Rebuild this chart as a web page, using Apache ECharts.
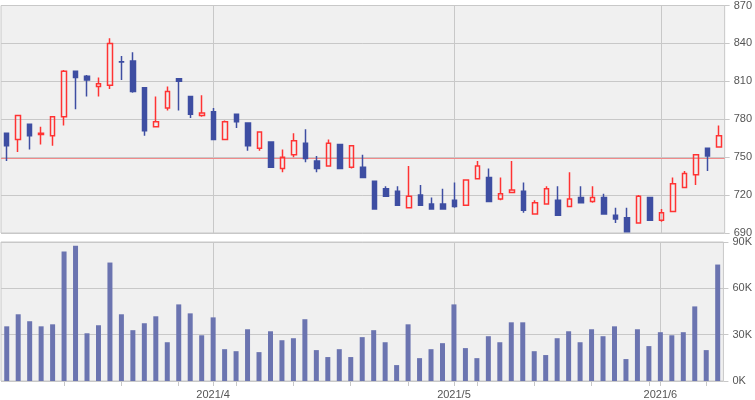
<!DOCTYPE html>
<html>
<head>
<meta charset="utf-8">
<script src="https://cdn.jsdelivr.net/npm/echarts@6/dist/echarts.min.js"></script>
<style>
html,body{margin:0;padding:0;background:#fff;}
#c{width:755px;height:400px;}
</style>
</head>
<body>
<div id="c"></div>
<script>
// Trading days (2021)
const dates = [
  '2021/3/8','2021/3/9','2021/3/10','2021/3/11','2021/3/12','2021/3/15','2021/3/16','2021/3/17','2021/3/18','2021/3/19',
  '2021/3/22','2021/3/23','2021/3/24','2021/3/25','2021/3/26','2021/3/29','2021/3/30','2021/3/31',
  '2021/4/1','2021/4/2','2021/4/5','2021/4/6','2021/4/7','2021/4/8','2021/4/9','2021/4/12','2021/4/13','2021/4/14',
  '2021/4/15','2021/4/16','2021/4/19','2021/4/20','2021/4/21','2021/4/22','2021/4/23','2021/4/26','2021/4/27','2021/4/28','2021/4/30',
  '2021/5/6','2021/5/7','2021/5/10','2021/5/11','2021/5/12','2021/5/13','2021/5/14','2021/5/17','2021/5/18','2021/5/19',
  '2021/5/20','2021/5/21','2021/5/24','2021/5/25','2021/5/26','2021/5/27','2021/5/28','2021/5/31',
  '2021/6/1','2021/6/2','2021/6/3','2021/6/4','2021/6/7','2021/6/8'
];
// [open, close, low, high]
const ohlc = [
  [769,759,747,769],[764,783,754,783],[776,767,756,776],[768,769,760,774],[767,782,759,782],
  [782,818,775,819],[818,813,788,818],[814,811,798,815],[806,808,798,813],[807,840,804,844],
  [825.5,825.3,811,830],[826,802,801,833],[805,771,767,805],[774,778,774,798],[789,802,787,806],
  [812,810,787,812],[798,784,781,798],[783,785,782,799],
  [786,764,764,789],[764,778,764,779],[784,778,773,784],[777,759,755,777],[757,770,755,770],
  [762,742,742,762],[741,750,738,756],[752,763,750,769],[761,749,746,772],[747,741,738,751],
  [743,761,743,764],[760,741,741,760],[742,759,741,759],[742,734,734,752],[731,709,709,731],
  [725,719,719,727],[723,712,712,727],[710,719,710,743],[720,712,712,728],[713,709,709,718],[713,709,709,725],
  [716,711,710,730],[712,732,712,732],[733,743,733,747],[734,715,715,741],[717,721,716,734],
  [722,724,722,747],[723,708,706,730],[705,714,705,716],[713,725,713,727],[716,704,704,727],
  [711,717,711,738],[718,714,714,727],[715,718,714,727],[718,705,705,721],[704,701,698,710],
  [702,691,690.5,710],[698,719,698,720],[718,700,700,718],
  [700,706,699,709],[707,729,707,734],[726,737,726,739],[736,752,728,752],[757,751,739,757],[758,767,758,775]
];
const volumes = [
  35400,43200,38700,35400,36700,83800,87600,30900,36100,76700,
  43200,32900,37400,41900,25100,49600,43800,29600,41200,20600,
  19300,33500,18700,32200,26400,27700,40000,20000,15500,20600,
  15500,28400,32900,25100,10300,36700,14800,20600,24500,49600,
  21300,14800,29000,25100,38000,38000,19300,16800,27700,32200,
  25100,33500,29000,35400,14200,33500,22600,31600,29600,31600,
  48300,20000,75400
];
const refPrice = 749.3;
const priceTicks = {min: 690, max: 870, step: 30};
const volTicks = {min: 0, max: 90000, step: 30000};

function parts(s){ const p = s.split('/').map(Number); return p; }
function isMonthStart(i){
  if (i === 0) return false;
  return parts(dates[i])[1] !== parts(dates[i-1])[1];
}
function isWeekTick(i){
  if (i === 0) return false;
  const p = parts(dates[i]);
  const d = new Date(p[0], p[1]-1, p[2]);
  return d.getDay() === 1 || isMonthStart(i);
}

const gridLine = '#c8c8c8';
const txt = {color:'#555', fontSize:11, fontFamily:'Liberation Sans, Arial, sans-serif'};
const blue = '#3e4ea2';
const red = '#ff3333';

const chart = echarts.init(document.getElementById('c'), null, {renderer:'canvas'});
chart.setOption({
  animation: false,
  grid: [
    {left:1, width:727, top:3, height:230, show:true, backgroundColor:'#f0f0f0', borderColor:gridLine, borderWidth:1},
    {left:1, width:727, top:242, height:140, show:true, backgroundColor:'#f0f0f0', borderColor:gridLine, borderWidth:1}
  ],
  xAxis: [
    {type:'category', gridIndex:0, data:dates, boundaryGap:true,
     axisLine:{show:false}, axisTick:{show:false}, axisLabel:{show:false},
     splitLine:{show:true, alignWithLabel:true, interval:(i)=>isMonthStart(i), lineStyle:{color:gridLine, width:1}}},
    {type:'category', gridIndex:1, data:dates, boundaryGap:true,
     axisLine:{show:false},
     axisTick:{show:true, alignWithLabel:true, length:5, interval:(i)=>isWeekTick(i), lineStyle:{color:gridLine}},
     axisLabel:Object.assign({show:true, margin:8, interval:(i)=>isMonthStart(i),
        formatter:(v)=>{const p=parts(v); return p[0]+'/'+p[1];}}, txt),
     splitLine:{show:true, alignWithLabel:true, interval:(i)=>isMonthStart(i), lineStyle:{color:gridLine, width:1}}}
  ],
  yAxis: [
    {type:'value', gridIndex:0, position:'right', min:priceTicks.min, max:priceTicks.max, interval:priceTicks.step,
     axisLine:{show:false}, axisTick:{show:true, length:5, lineStyle:{color:gridLine}},
     axisLabel:Object.assign({margin:9}, txt),
     splitLine:{show:true, lineStyle:{color:gridLine}}},
    {type:'value', gridIndex:1, position:'right', min:volTicks.min, max:volTicks.max, interval:volTicks.step,
     axisLine:{show:false}, axisTick:{show:true, length:5, lineStyle:{color:gridLine}},
     axisLabel:Object.assign({margin:9, formatter:(v)=>(v/1000)+'K'}, txt),
     splitLine:{show:true, lineStyle:{color:gridLine}}}
  ],
  series: [
    {type:'candlestick', xAxisIndex:0, yAxisIndex:0, data:ohlc, barWidth:5,
     itemStyle:{color:'rgba(0,0,0,0)', color0:blue, borderColor:red, borderColor0:blue, borderColorDoji:blue, borderWidth:1.5},
     markLine:{silent:true, symbol:['none','none'], label:{show:false}, z:1,
       lineStyle:{color:'#f08a8a', width:1, type:'solid'}, data:[{yAxis:refPrice}]}},
    {type:'bar', xAxisIndex:1, yAxisIndex:1, data:volumes, barWidth:5, itemStyle:{color:'#6b74b0'}}
  ]
});
</script>
</body>
</html>
